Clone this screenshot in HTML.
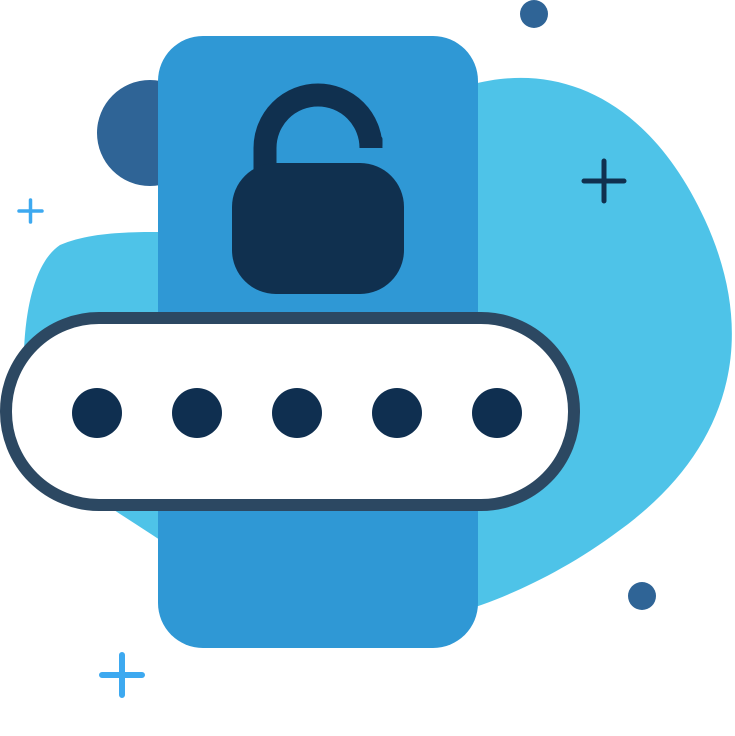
<!DOCTYPE html>
<html><head><meta charset="utf-8"><style>
html,body{margin:0;padding:0;background:#fff;}
svg{display:block;}
</style></head><body>
<svg width="735" height="736" viewBox="0 0 735 736" xmlns="http://www.w3.org/2000/svg">
<path d="M60,245 C90,232 130,232 160,232 L470,85 C560,60 650,100 705,220 C760,340 730,450 620,530 C560,575 500,600 460,612 L160,540 C100,500 40,470 25,400 C20,330 30,265 60,245 Z" fill="#4EC3E8"/>
<circle cx="150" cy="133" r="53" fill="#2F6496"/>
<rect x="158" y="36" width="320" height="612" rx="45" fill="#2F98D5"/>
<path d="M265,175 L265,148 A53,53 0 0 1 371,148" fill="none" stroke="#10304F" stroke-width="23" stroke-linecap="butt" stroke-linejoin="round"/>
<rect x="359.5" y="136" width="23" height="12" rx="3" fill="#10304F"/>
<rect x="232" y="163" width="172" height="131" rx="44" fill="#10304F"/>
<rect x="6" y="318" width="568" height="187" rx="93" fill="#fff" stroke="#2C4862" stroke-width="12"/>
<g fill="#0F2F50">
<circle cx="97" cy="413" r="25"/><circle cx="197" cy="413" r="25"/><circle cx="297" cy="413" r="25"/><circle cx="397" cy="413" r="25"/><circle cx="497" cy="413" r="25"/>
</g>
<circle cx="534" cy="14" r="14" fill="#2F6496"/>
<circle cx="642" cy="596" r="14" fill="#2F6496"/>
<g stroke-linecap="round" fill="none">
<path d="M19,211 H42 M30.5,200 V222" stroke="#3DA9F0" stroke-width="3.5"/>
<path d="M584,181 H624 M604,161 V201" stroke="#10304F" stroke-width="5"/>
<path d="M102,675 H142 M122,655 V695" stroke="#3DA9F0" stroke-width="6"/>
</g>
</svg>
</body></html>
